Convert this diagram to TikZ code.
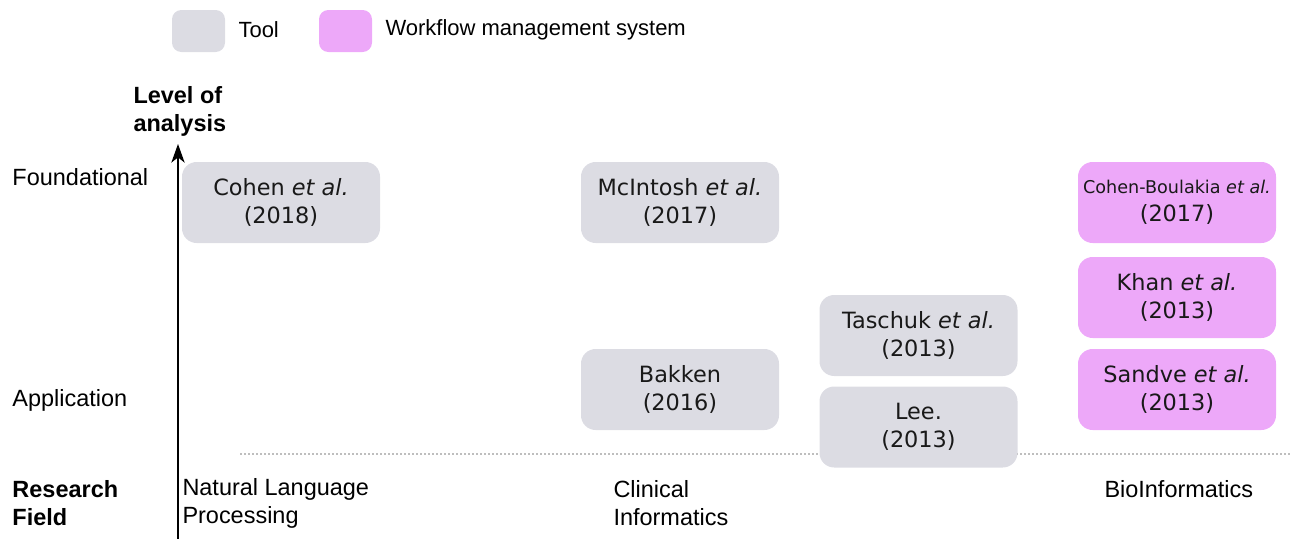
\documentclass[tikz,border=0pt]{standalone}
\usepackage{fontspec}
\usetikzlibrary{arrows.meta}
\setmainfont{Liberation Sans}
\newfontfamily\boxfont{DejaVu Sans}
\definecolor{toolgray}{RGB}{220,220,227}
\definecolor{wmspink}{RGB}{237,168,249}
\definecolor{dotgray}{RGB}{190,190,190}

\tikzset{every picture/.style={line width=0.75pt}}
\tikzset{
  lbl/.style={anchor=west, inner sep=0pt, align=left, font=\fontsize{17.6}{21}\selectfont},
  leg/.style={anchor=west, inner sep=0pt, font=\fontsize{16.5}{19}\selectfont},
  paper/.style={rounded corners=11pt, draw opacity=0, minimum width=148.5pt, minimum height=60.75pt,
    align=center, inner sep=0pt, text=black!90, font=\boxfont\fontsize{16.8}{21}\selectfont},
  toolbox/.style={paper, fill=toolgray},
  wmsbox/.style={paper, fill=wmspink},
  swatch/.style={rounded corners=7pt, minimum width=39.75pt, minimum height=31.5pt, inner sep=0pt}
}

\begin{document}
\begin{tikzpicture}[x=0.75pt,y=0.75pt,yscale=-1,xscale=1]
        \path [use as bounding box] (0,0) rectangle (1290,539);

        %Shape: Legend swatches
        \node (legtool) at (198.5,31) [swatch, fill=toolgray] {};
        \node (legwms) at (345.5,31) [swatch, fill=wmspink] {};
        % Text Node
        \node (legtooltxt) at (238,30) [leg] {Tool};
        % Text Node
        \node (legwmstxt) at (385,30) [leg] {Workflow management system};

        %Straight Lines (axis)
        \coordinate (axbot) at (178,539);
        \coordinate (axtop) at (178,144);
        \draw [line width=1.1pt, -{Stealth[length=14pt, width=10pt, inset=4pt]}] (axbot) -- (axtop);
        %Straight Lines (dotted)
        \coordinate (dotl) at (240,454);
        \coordinate (dotr) at (1290,454);
        \draw [color=dotgray, line width=0.8pt, dash pattern={on 1.5pt off 1.5pt}] (dotl) -- (dotr);

        % Text Node
        \node (level) at (133,111) [lbl, font=\bfseries\fontsize{17.6}{21}\selectfont] {Level of\\analysis};
        % Text Node
        \node (found) at (12,177) [lbl] {Foundational};
        % Text Node
        \node (appl) at (12,400) [lbl] {Application};
        % Text Node
        \node (field) at (12,503) [lbl, font=\bfseries\fontsize{17.6}{21}\selectfont] {Research\\Field};
        % Text Node
        \node (nlp) at (182,503) [lbl] {Natural Language\\Processing};
        % Text Node
        \node (clin) at (613,503) [lbl] {Clinical\\Informatics};
        % Text Node
        \node (bio) at (1104,489) [lbl] {BioInformatics};

        %Shape: Tools
        \node (cohen) at (281,202.5) [toolbox] {Cohen \textit{et al.}\\(2018)};
        \node (mcintosh) at (680,202.5) [toolbox] {McIntosh \textit{et al.}\\(2017)};
        \node (bakken) at (680,389.5) [toolbox] {Bakken\\(2016)};
        \node (taschuk) at (918.5,335.5) [toolbox] {Taschuk \textit{et al.}\\(2013)};
        \node (lee) at (918.5,427) [toolbox] {Lee.\\(2013)};
        %Shape: Workflow management systems
        \node (boulakia) at (1177,202.5) [wmsbox] {{\fontsize{13.2}{16}\selectfont Cohen-Boulakia \textit{et al.}}\\(2017)};
        \node (khan) at (1177,297.5) [wmsbox] {Khan \textit{et al.}\\(2013)};
        \node (sandve) at (1177,389.5) [wmsbox] {Sandve \textit{et al.}\\(2013)};

    \end{tikzpicture}
\end{document}
